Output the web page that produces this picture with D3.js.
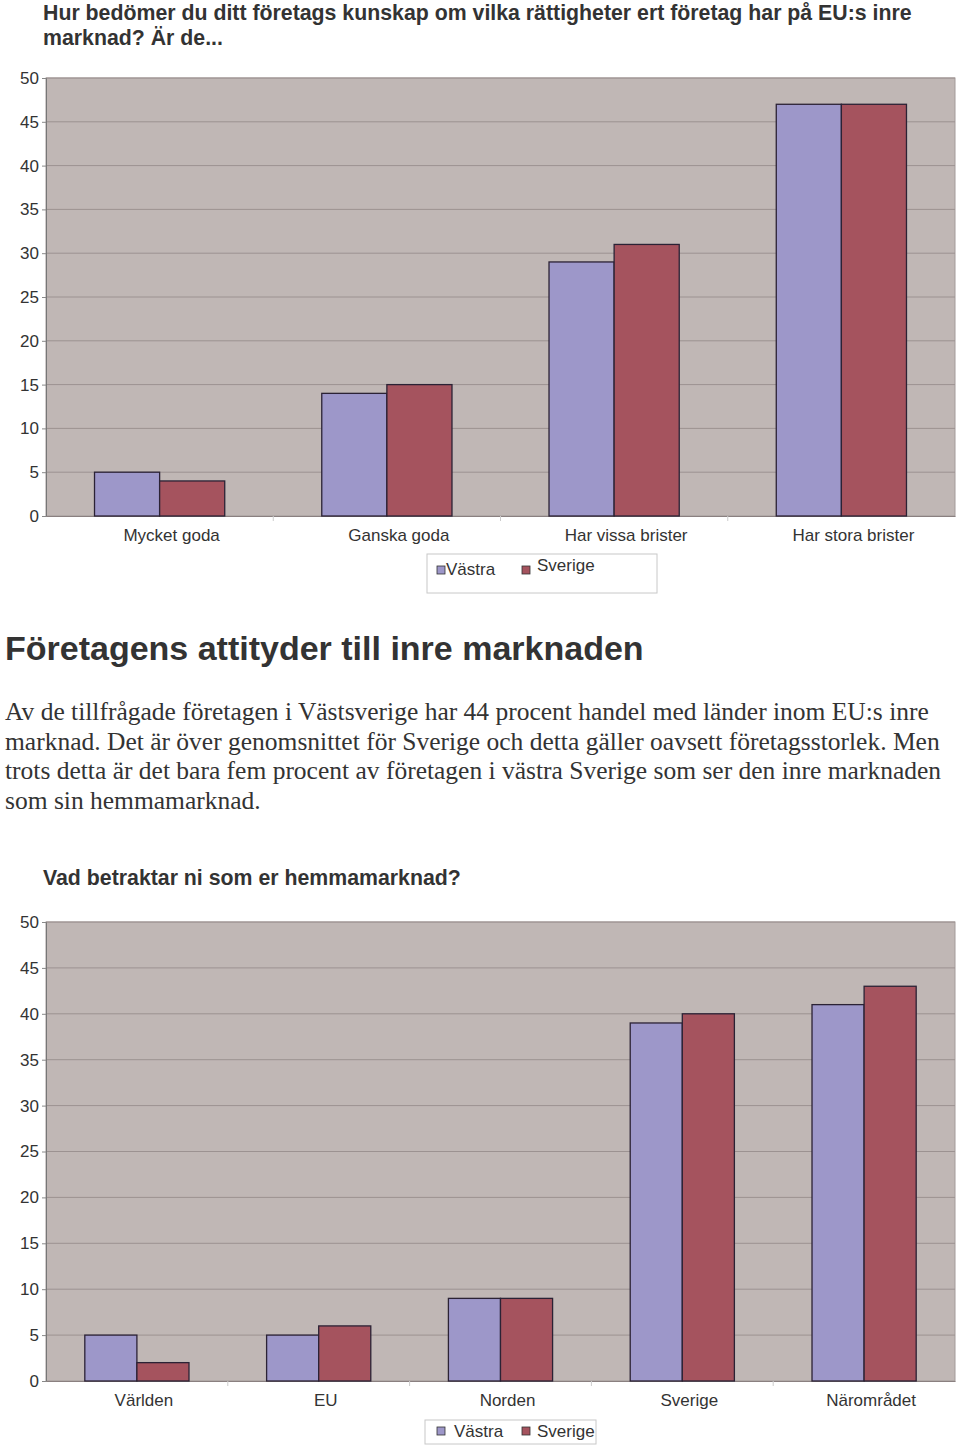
<!DOCTYPE html>
<html><head><meta charset="utf-8">
<script src="https://cdn.jsdelivr.net/npm/d3@7"></script>
<style>
body{margin:0;background:#fff;}
svg text{fill:#333;}
</style></head>
<body>
<svg id="c" width="960" height="1447"></svg>
<script>
const series = ["Västra", "Sverige"];
const colors = ["#9d97c9", "#a5535e"];
const categories1 = ["Mycket goda", "Ganska goda", "Har vissa brister", "Har stora brister"];
const vastra1 = [5, 14, 29, 47];
const sverige1 = [4, 15, 31, 47];
const categories2 = ["Världen", "EU", "Norden", "Sverige", "Närområdet"];
const vastra2 = [5, 5, 9, 39, 41];
const sverige2 = [2, 6, 9, 40, 43];
const yTicks = [0, 5, 10, 15, 20, 25, 30, 35, 40, 45, 50];

const svg = d3.select("#c");
const sans = "Liberation Sans, Arial, sans-serif";
const serif = "Liberation Serif, Times New Roman, serif";

function titleLines(lines, x, y0, lh, size) {
  lines.forEach((t, i) => svg.append("text").attr("x", x).attr("y", y0 + i * lh)
    .attr("font-family", sans).attr("font-weight", "bold").attr("font-size", size).text(t));
}

function chart(cats, vals, top, bottom, legend, labelShift) {
  const left = 46, right = 955;
  const x = d3.scaleBand().domain(cats).range([left, right]).paddingInner(0.427).paddingOuter(0.2135);
  const xs = d3.scaleBand().domain(series).range([0, x.bandwidth()]);
  const y = d3.scaleLinear().domain([0, 50]).range([bottom, top]);
  const g = svg.append("g");
  g.append("rect").attr("x", left).attr("y", top).attr("width", right - left).attr("height", bottom - top)
    .attr("fill", "#c0b7b5").attr("stroke", "#a39a99").attr("stroke-width", 1);
  g.selectAll("line.grid").data(yTicks.slice(1)).join("line")
    .attr("x1", left).attr("x2", right).attr("y1", d => y(d)).attr("y2", d => y(d))
    .attr("stroke", "#9c9291").attr("stroke-width", 1);
  // y axis
  const ya = d3.axisLeft(y).tickValues(yTicks).tickSize(4).tickPadding(3);
  const yg = g.append("g").attr("transform", `translate(${left},0)`).call(ya);
  yg.select(".domain").attr("stroke", "#777");
  yg.selectAll(".tick line").attr("stroke", "#888");
  yg.selectAll("text").attr("font-family", sans).attr("font-size", 17).attr("fill", "#333");
  // x axis
  const xa = d3.axisBottom(x).tickSize(0).tickPadding(13);
  const xg = g.append("g").attr("transform", `translate(0,${bottom})`).call(xa);
  xg.select(".domain").attr("stroke", "#8a8080");
  xg.selectAll("text").attr("font-family", sans).attr("font-size", 17).attr("fill", "#333")
    .attr("dx", labelShift);
  // boundary ticks
  const step = x.step();
  g.selectAll("line.bt").data(cats.slice(1)).join("line")
    .attr("x1", (d) => x(d) - x.paddingInner() * step / 2).attr("x2", (d) => x(d) - x.paddingInner() * step / 2)
    .attr("y1", bottom).attr("y2", bottom + 5).attr("stroke", "#ccc");
  // bars
  cats.forEach((c, i) => {
    series.forEach((s, j) => {
      g.append("rect").attr("x", x(c) + xs(s)).attr("y", y(vals[j][i]))
        .attr("width", xs.bandwidth()).attr("height", y(0) - y(vals[j][i]))
        .attr("fill", colors[j]).attr("stroke", "#2b2235").attr("stroke-width", 1.3);
    });
  });
  // legend
  const L = legend;
  g.append("rect").attr("x", L.x).attr("y", L.y).attr("width", L.w).attr("height", L.h)
    .attr("fill", "#fff").attr("stroke", "#c8c8c8");
  series.forEach((s, j) => {
    g.append("rect").attr("x", L.sx[j]).attr("y", L.sy[j]).attr("width", 8).attr("height", 8)
      .attr("fill", colors[j]).attr("stroke", "#333").attr("stroke-width", 0.8);
    g.append("text").attr("x", L.tx[j]).attr("y", L.ty[j]).attr("font-family", sans)
      .attr("font-size", 17).text(s);
  });
}

titleLines(["Hur bedömer du ditt företags kunskap om vilka rättigheter ert företag har på EU:s inre",
  "marknad? Är de..."], 43, 20, 25, 21.3);

chart(categories1, [vastra1, sverige1], 78, 516,
  {x: 427, y: 554, w: 230, h: 39, sx: [437, 522], sy: [566, 566], tx: [446, 537], ty: [575, 571]}, 12);

svg.append("text").attr("x", 5).attr("y", 660).attr("font-family", sans).attr("font-weight", "bold")
  .attr("font-size", 34).text("Företagens attityder till inre marknaden");

const para = ["Av de tillfrågade företagen i Västsverige har 44 procent handel med länder inom EU:s inre",
  "marknad. Det är över genomsnittet för Sverige och detta gäller oavsett företagsstorlek. Men",
  "trots detta är det bara fem procent av företagen i västra Sverige som ser den inre marknaden",
  "som sin hemmamarknad."];
para.forEach((t, i) => svg.append("text").attr("x", 5).attr("y", 720 + i * 29.5)
  .attr("font-family", serif).attr("font-size", 25.5).text(t));

titleLines(["Vad betraktar ni som er hemmamarknad?"], 43, 885, 25, 21.3);

chart(categories2, [vastra2, sverige2], 922, 1381,
  {x: 425, y: 1420, w: 171, h: 24, sx: [437, 522], sy: [1427, 1427], tx: [454, 537], ty: [1437, 1437]}, 7);
</script>
</body></html>
